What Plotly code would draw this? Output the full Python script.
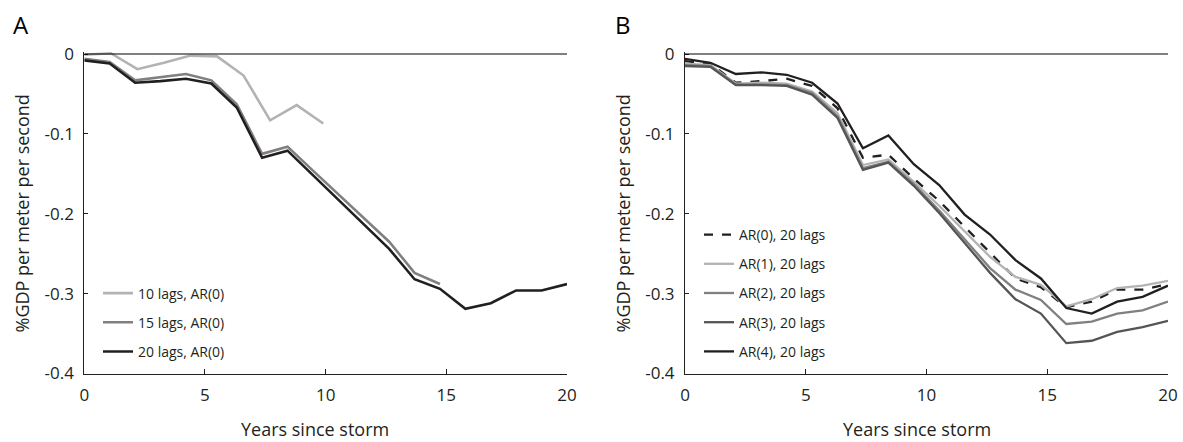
import plotly.graph_objects as go

# ---------------- data ----------------
years_10 = [0.0, 1.1, 2.2, 3.3, 4.4, 5.5, 6.6, 7.7, 8.8, 9.9]
years_20 = [0.0, 1.053, 2.105, 3.158, 4.211, 5.263, 6.316, 7.368, 8.421, 9.474,
            10.526, 11.579, 12.632, 13.684, 14.737, 15.789, 16.842, 17.895, 18.947, 20.0]
years_15 = years_20[:15]

lags10_ar0 = [-0.001, 0.001, -0.019, -0.011, -0.002, -0.003, -0.027, -0.083, -0.064, -0.087]
lags15_ar0 = [-0.006, -0.010, -0.033, -0.029, -0.025, -0.033, -0.063, -0.125, -0.116,
              -0.146, -0.176, -0.206, -0.235, -0.274, -0.288]
lags20_ar0 = [-0.008, -0.012, -0.036, -0.034, -0.031, -0.037, -0.067, -0.130, -0.121,
              -0.152, -0.183, -0.213, -0.244, -0.282, -0.294, -0.319, -0.312, -0.296,
              -0.296, -0.288]

ar0_20 = [-0.009, -0.012, -0.036, -0.034, -0.031, -0.040, -0.068, -0.130, -0.126,
          -0.156, -0.184, -0.216, -0.248, -0.281, -0.292, -0.317, -0.310, -0.295,
          -0.295, -0.288]
ar1_20 = [-0.012, -0.014, -0.037, -0.036, -0.037, -0.047, -0.074, -0.139, -0.132,
          -0.160, -0.190, -0.222, -0.254, -0.279, -0.289, -0.316, -0.307, -0.293,
          -0.290, -0.284]
ar2_20 = [-0.014, -0.015, -0.038, -0.038, -0.039, -0.049, -0.078, -0.143, -0.135,
          -0.163, -0.196, -0.232, -0.268, -0.295, -0.308, -0.338, -0.335, -0.325,
          -0.321, -0.310]
ar3_20 = [-0.015, -0.016, -0.039, -0.039, -0.040, -0.051, -0.080, -0.145, -0.136,
          -0.165, -0.199, -0.236, -0.274, -0.307, -0.325, -0.362, -0.359, -0.348,
          -0.342, -0.334]
ar4_20 = [-0.006, -0.011, -0.025, -0.023, -0.026, -0.036, -0.062, -0.118, -0.102,
          -0.138, -0.164, -0.201, -0.226, -0.258, -0.281, -0.318, -0.325, -0.310,
          -0.304, -0.290]

x_tickvals = [0, 5, 10, 15, 20]
x_ticktext = ["0", "5", "10", "15", "20"]
y_tickvals = [0, -0.1, -0.2, -0.3, -0.4]
y_ticktext = ["0", "-0.1", "-0.2", "-0.3", "-0.4"]

names_a = ["10 lags, AR(0)", "15 lags, AR(0)", "20 lags, AR(0)"]
names_b = ["AR(0), 20 lags", "AR(1), 20 lags", "AR(2), 20 lags", "AR(3), 20 lags", "AR(4), 20 lags"]

x_title = "Years since storm"
y_title = "%GDP per meter per second"
panel_labels = ["A", "B"]

# ---------------- styling ----------------
W, H = 1183, 442
FONT = "Open Sans"
INK = "#231f20"
LIGHT = "#b3b3b3"
MID = "#808080"
DARK = "#555555"

fig = go.Figure()

# Panel A traces
for xs, ys, name, col in [
    (years_10, lags10_ar0, names_a[0], LIGHT),
    (years_15, lags15_ar0, names_a[1], MID),
    (years_20, lags20_ar0, names_a[2], INK),
]:
    fig.add_trace(go.Scatter(x=xs, y=ys, mode="lines", name=name,
                             line=dict(color=col, width=2.6),
                             xaxis="x", yaxis="y", legend="legend",
                             legendgroup=name))

# Panel B traces
for ys, name, col, dash in [
    (ar0_20, names_b[0], INK, "dash"),
    (ar1_20, names_b[1], LIGHT, "solid"),
    (ar2_20, names_b[2], MID, "solid"),
    (ar3_20, names_b[3], DARK, "solid"),
    (ar4_20, names_b[4], INK, "solid"),
]:
    fig.add_trace(go.Scatter(x=years_20, y=ys, mode="lines", name=name,
                             line=dict(color=col, width=2.3, dash=dash),
                             xaxis="x2", yaxis="y2", legend="legend2",
                             legendgroup=name))

def px_x(p):
    return p / W

def px_y(p):
    return 1 - p / H

xdomA = [px_x(84.3), px_x(567)]
xdomB = [px_x(685), px_x(1168)]
ydom = [px_y(373.5), px_y(51.6)]

xaxis_common = dict(range=[0, 20], tickvals=x_tickvals, ticktext=x_ticktext,
                    showline=True, linecolor=INK, linewidth=1,
                    ticks="inside", ticklen=5, tickcolor=INK, tickwidth=1,
                    showgrid=False, zeroline=False,
                    tickfont=dict(family=FONT, size=17, color=INK),
                    ticklabelstandoff=6,
                    fixedrange=True)
yaxis_common = dict(range=[-0.4, 0.003], tickvals=y_tickvals, ticktext=y_ticktext,
                    showline=True, linecolor=INK, linewidth=1,
                    ticks="inside", ticklen=4, tickcolor=INK, tickwidth=1,
                    showgrid=False, zeroline=False,
                    tickfont=dict(family=FONT, size=17, color=INK),
                    ticklabelstandoff=6,
                    fixedrange=True)

fig.update_layout(
    width=W, height=H,
    margin=dict(l=0, r=0, t=0, b=0, autoexpand=False),
    paper_bgcolor="white", plot_bgcolor="white",
    font=dict(family=FONT, color=INK),
    xaxis=dict(domain=xdomA, anchor="y", **xaxis_common),
    yaxis=dict(domain=ydom, anchor="x", **yaxis_common),
    xaxis2=dict(domain=xdomB, anchor="y2", **xaxis_common),
    yaxis2=dict(domain=ydom, anchor="x2", **yaxis_common),
    legend=dict(x=px_x(98), y=px_y(277.5), xanchor="left", yanchor="top",
                bgcolor="rgba(0,0,0,0)", traceorder="grouped", tracegroupgap=8,
                font=dict(family=FONT, size=14, color=INK)),
    legend2=dict(x=px_x(699), y=px_y(219), xanchor="left", yanchor="top",
                 bgcolor="rgba(0,0,0,0)", traceorder="grouped", tracegroupgap=8,
                 font=dict(family=FONT, size=14, color=INK)),
    showlegend=True,
)

# zero reference lines
fig.add_shape(type="line", xref="x", yref="y", x0=0, x1=20, y0=0, y1=0,
              line=dict(color="black", width=1.2))
fig.add_shape(type="line", xref="x2", yref="y2", x0=0, x1=20, y0=0, y1=0,
              line=dict(color="black", width=1.2))

# axis titles (as annotations for exact placement)
for xc in [315, 916.5]:
    fig.add_annotation(text=x_title, xref="paper", yref="paper",
                       x=px_x(xc), y=px_y(429), xanchor="center", yanchor="middle",
                       showarrow=False, font=dict(family=FONT, size=18, color=INK))
for xc in [21, 622]:
    fig.add_annotation(text=y_title, xref="paper", yref="paper", textangle=-90,
                       x=px_x(xc), y=px_y(213.5), xanchor="center", yanchor="middle",
                       showarrow=False, font=dict(family=FONT, size=18, color=INK))

# panel letters
for lbl, xl in zip(panel_labels, [11, 613]):
    fig.add_annotation(text=lbl, xref="paper", yref="paper", x=px_x(xl), y=px_y(24),
                       xanchor="left", yanchor="middle", showarrow=False,
                       font=dict(family=FONT, size=24, color="black"))

fig.write_html("out.html")
